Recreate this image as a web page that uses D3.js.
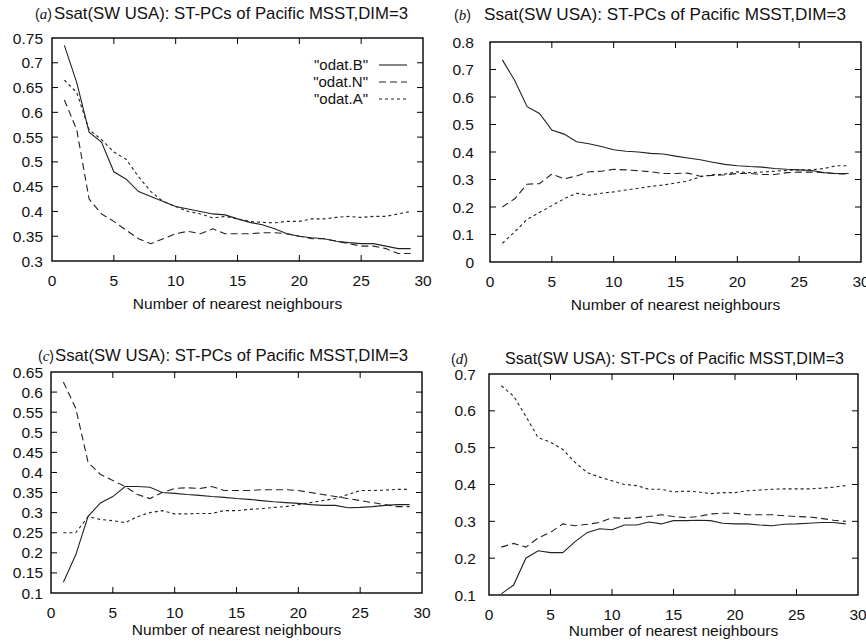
<!DOCTYPE html>
<html>
<head>
<meta charset="utf-8">
<script src="https://cdn.jsdelivr.net/npm/d3@7"></script>
<style>
  body { margin: 0; background: #fff; }
  svg { display: block; font-family: "Liberation Sans", Arial, Helvetica, sans-serif; }
</style>
</head>
<body>
<div id="chart"></div>
<script>
// number of nearest neighbours (x)
var neighbours = [1,2,3,4,5,6,7,8,9,10,11,12,13,14,15,16,17,18,19,20,21,22,23,24,25,26,27,28,29];

var seriesNames = ['"odat.B"', '"odat.N"', '"odat.A"'];

// panel (a)
var aB = [0.735,0.66,0.56,0.54,0.48,0.465,0.44,0.43,0.42,0.41,0.405,0.40,0.395,0.393,0.385,0.378,0.373,0.365,0.355,0.35,0.347,0.345,0.34,0.337,0.335,0.335,0.33,0.325,0.325];
var aN = [0.625,0.565,0.425,0.395,0.38,0.362,0.345,0.335,0.345,0.355,0.36,0.355,0.365,0.355,0.355,0.355,0.357,0.357,0.355,0.35,0.345,0.345,0.34,0.335,0.33,0.33,0.325,0.315,0.315];
var aA = [0.665,0.64,0.565,0.545,0.52,0.505,0.47,0.44,0.42,0.41,0.40,0.395,0.387,0.39,0.385,0.38,0.378,0.377,0.38,0.38,0.385,0.385,0.388,0.39,0.388,0.39,0.39,0.395,0.40];
// panel (b)
var bB = [0.735,0.66,0.565,0.54,0.48,0.465,0.437,0.43,0.42,0.408,0.403,0.40,0.395,0.393,0.385,0.378,0.372,0.363,0.355,0.35,0.347,0.345,0.34,0.337,0.335,0.333,0.325,0.322,0.322];
var bN = [0.20,0.23,0.283,0.285,0.32,0.302,0.313,0.328,0.33,0.337,0.335,0.332,0.328,0.322,0.322,0.323,0.312,0.315,0.317,0.322,0.322,0.318,0.318,0.325,0.327,0.327,0.325,0.32,0.32];
var bA = [0.068,0.11,0.155,0.18,0.205,0.23,0.25,0.243,0.25,0.255,0.262,0.268,0.275,0.28,0.287,0.295,0.31,0.317,0.32,0.328,0.325,0.327,0.33,0.333,0.335,0.335,0.34,0.35,0.35];
// panel (c)
var cB = [0.127,0.195,0.291,0.324,0.34,0.365,0.365,0.363,0.35,0.348,0.345,0.343,0.34,0.338,0.335,0.333,0.33,0.327,0.325,0.323,0.32,0.318,0.318,0.312,0.313,0.315,0.318,0.32,0.32];
var cN = [0.625,0.56,0.425,0.395,0.38,0.365,0.345,0.335,0.35,0.36,0.362,0.36,0.365,0.355,0.355,0.355,0.357,0.357,0.357,0.355,0.35,0.345,0.34,0.335,0.33,0.325,0.32,0.315,0.315];
var cA = [0.25,0.25,0.29,0.283,0.28,0.275,0.29,0.30,0.305,0.297,0.297,0.298,0.298,0.305,0.305,0.308,0.31,0.313,0.315,0.32,0.325,0.33,0.335,0.345,0.355,0.355,0.356,0.358,0.358];
// panel (d)
var dB = [0.103,0.127,0.20,0.22,0.215,0.215,0.245,0.27,0.28,0.277,0.29,0.29,0.298,0.293,0.302,0.302,0.303,0.302,0.295,0.293,0.293,0.29,0.288,0.292,0.293,0.295,0.297,0.297,0.293];
var dN = [0.23,0.24,0.23,0.255,0.27,0.293,0.288,0.292,0.297,0.31,0.308,0.31,0.313,0.318,0.313,0.31,0.313,0.32,0.322,0.322,0.318,0.318,0.318,0.315,0.313,0.312,0.308,0.303,0.30];
var dA = [0.668,0.64,0.585,0.527,0.515,0.495,0.46,0.432,0.42,0.41,0.40,0.397,0.387,0.387,0.38,0.382,0.38,0.375,0.378,0.378,0.383,0.385,0.387,0.388,0.388,0.388,0.39,0.393,0.397];

// tick values
var xTicks = [0,5,10,15,20,25,30];
var yTicksA = [0.3,0.35,0.4,0.45,0.5,0.55,0.6,0.65,0.7,0.75];
var yTicksB = [0,0.1,0.2,0.3,0.4,0.5,0.6,0.7,0.8];
var yTicksC = [0.1,0.15,0.2,0.25,0.3,0.35,0.4,0.45,0.5,0.55,0.6,0.65];
var yTicksD = [0.1,0.2,0.3,0.4,0.5,0.6,0.7];

var title = "Ssat(SW USA): ST-PCs of Pacific MSST,DIM=3";
var xLabel = "Number of nearest neighbours";

var width = 866, height = 641;

var dashes = [null, "7,4", "3,3"];

var panels = [
	{ tag: "a", series: [aB, aN, aA], yTicks: yTicksA, left: 52, right: 423, top: 38, bottom: 261, tagX: 35, titleX: 54, titleW: 354, titleY: 19, labGap: 9, xlabOff: 48, legend: true },
	{ tag: "b", series: [bB, bN, bA], yTicks: yTicksB, left: 490, right: 861, top: 42, bottom: 262, tagX: 454, titleX: 484, titleW: 362, titleY: 20, labGap: 16, xlabOff: 48 },
	{ tag: "c", series: [cB, cN, cA], yTicks: yTicksC, left: 51, right: 422, top: 372, bottom: 593, tagX: 38, titleX: 55, titleW: 353, titleY: 361, labGap: 8, xlabOff: 42 },
	{ tag: "d", series: [dB, dN, dA], yTicks: yTicksD, left: 489, right: 858, top: 374, bottom: 595, tagX: 451, titleX: 505, titleW: 339, titleY: 364, labGap: 13, xlabOff: 41 }
];

var svg = d3.select("#chart").append("svg")
	.attr("width", width)
	.attr("height", height);

svg.append("rect").attr("width", width).attr("height", height).attr("fill", "#fff");

var fmt = d3.format("~g");

panels.forEach(function(p) {
	var x = d3.scaleLinear().domain([0, 30]).range([p.left, p.right]);
	var yd = d3.extent(p.yTicks);
	var y = d3.scaleLinear().domain(yd).range([p.bottom, p.top]);
	var g = svg.append("g");

	// title
	g.append("text")
		.attr("x", p.tagX).attr("y", p.titleY)
		.attr("font-size", 14).attr("fill", "#111")
		.html('(<tspan font-family="Liberation Serif, Times New Roman, serif" font-style="italic" font-size="15">' + p.tag + '</tspan>)');
	g.append("text")
		.attr("x", p.titleX).attr("y", p.titleY)
		.attr("font-size", 16.6).attr("fill", "#111")
		.attr("textLength", p.titleW)
		.attr("lengthAdjust", "spacingAndGlyphs")
		.text(title);

	// lines
	var line = d3.line()
		.x(function(d, i) { return x(neighbours[i]); })
		.y(function(d) { return y(d); });

	p.series.forEach(function(s, i) {
		g.append("path")
			.datum(s)
			.attr("d", line)
			.attr("fill", "none")
			.attr("stroke", "#222")
			.attr("stroke-width", 1.1)
			.attr("stroke-dasharray", dashes[i]);
	});

	// inward ticks on all sides
	var tl = 6;
	xTicks.forEach(function(v) {
		if (v == 0 || v == 30) return;
		g.append("line").attr("x1", x(v)).attr("x2", x(v)).attr("y1", p.bottom).attr("y2", p.bottom - tl).attr("stroke", "#000");
		g.append("line").attr("x1", x(v)).attr("x2", x(v)).attr("y1", p.top).attr("y2", p.top + tl).attr("stroke", "#000");
	});
	p.yTicks.forEach(function(v, i) {
		if (i == 0 || i == p.yTicks.length - 1) return;
		g.append("line").attr("x1", p.left).attr("x2", p.left + tl).attr("y1", y(v)).attr("y2", y(v)).attr("stroke", "#000");
		g.append("line").attr("x1", p.right).attr("x2", p.right - tl).attr("y1", y(v)).attr("y2", y(v)).attr("stroke", "#000");
	});

	// frame
	g.append("rect")
		.attr("x", p.left).attr("y", p.top)
		.attr("width", p.right - p.left).attr("height", p.bottom - p.top)
		.attr("fill", "none").attr("stroke", "#000").attr("stroke-width", 1.4);

	// tick labels
	g.selectAll(".xl").data(xTicks).enter().append("text")
		.attr("x", function(d) { return x(d); })
		.attr("y", p.bottom + 25)
		.attr("text-anchor", "middle")
		.attr("font-size", 15.5)
		.attr("fill", "#111")
		.text(fmt);

	g.selectAll(".yl").data(p.yTicks).enter().append("text")
		.attr("x", p.left - p.labGap)
		.attr("y", function(d) { return y(d); })
		.attr("dy", "0.36em")
		.attr("text-anchor", "end")
		.attr("font-size", 15.5)
		.attr("fill", "#111")
		.text(fmt);

	g.append("text")
		.attr("x", (p.left + p.right) / 2)
		.attr("y", p.bottom + p.xlabOff)
		.attr("text-anchor", "middle")
		.attr("font-size", 15.5)
		.attr("fill", "#111")
		.text(xLabel);

	// legend
	if (p.legend) {
		seriesNames.forEach(function(name, i) {
			var ly = 65 + i * 17;
			g.append("text")
				.attr("x", 368).attr("y", ly)
				.attr("dy", "0.36em")
				.attr("text-anchor", "end")
				.attr("font-size", 15)
				.attr("fill", "#111")
				.text(name);
			g.append("line")
				.attr("x1", 379).attr("x2", 407)
				.attr("y1", ly).attr("y2", ly)
				.attr("stroke", "#222")
				.attr("stroke-width", 1.1)
				.attr("stroke-dasharray", dashes[i]);
		});
	}
});
</script>
</body>
</html>
